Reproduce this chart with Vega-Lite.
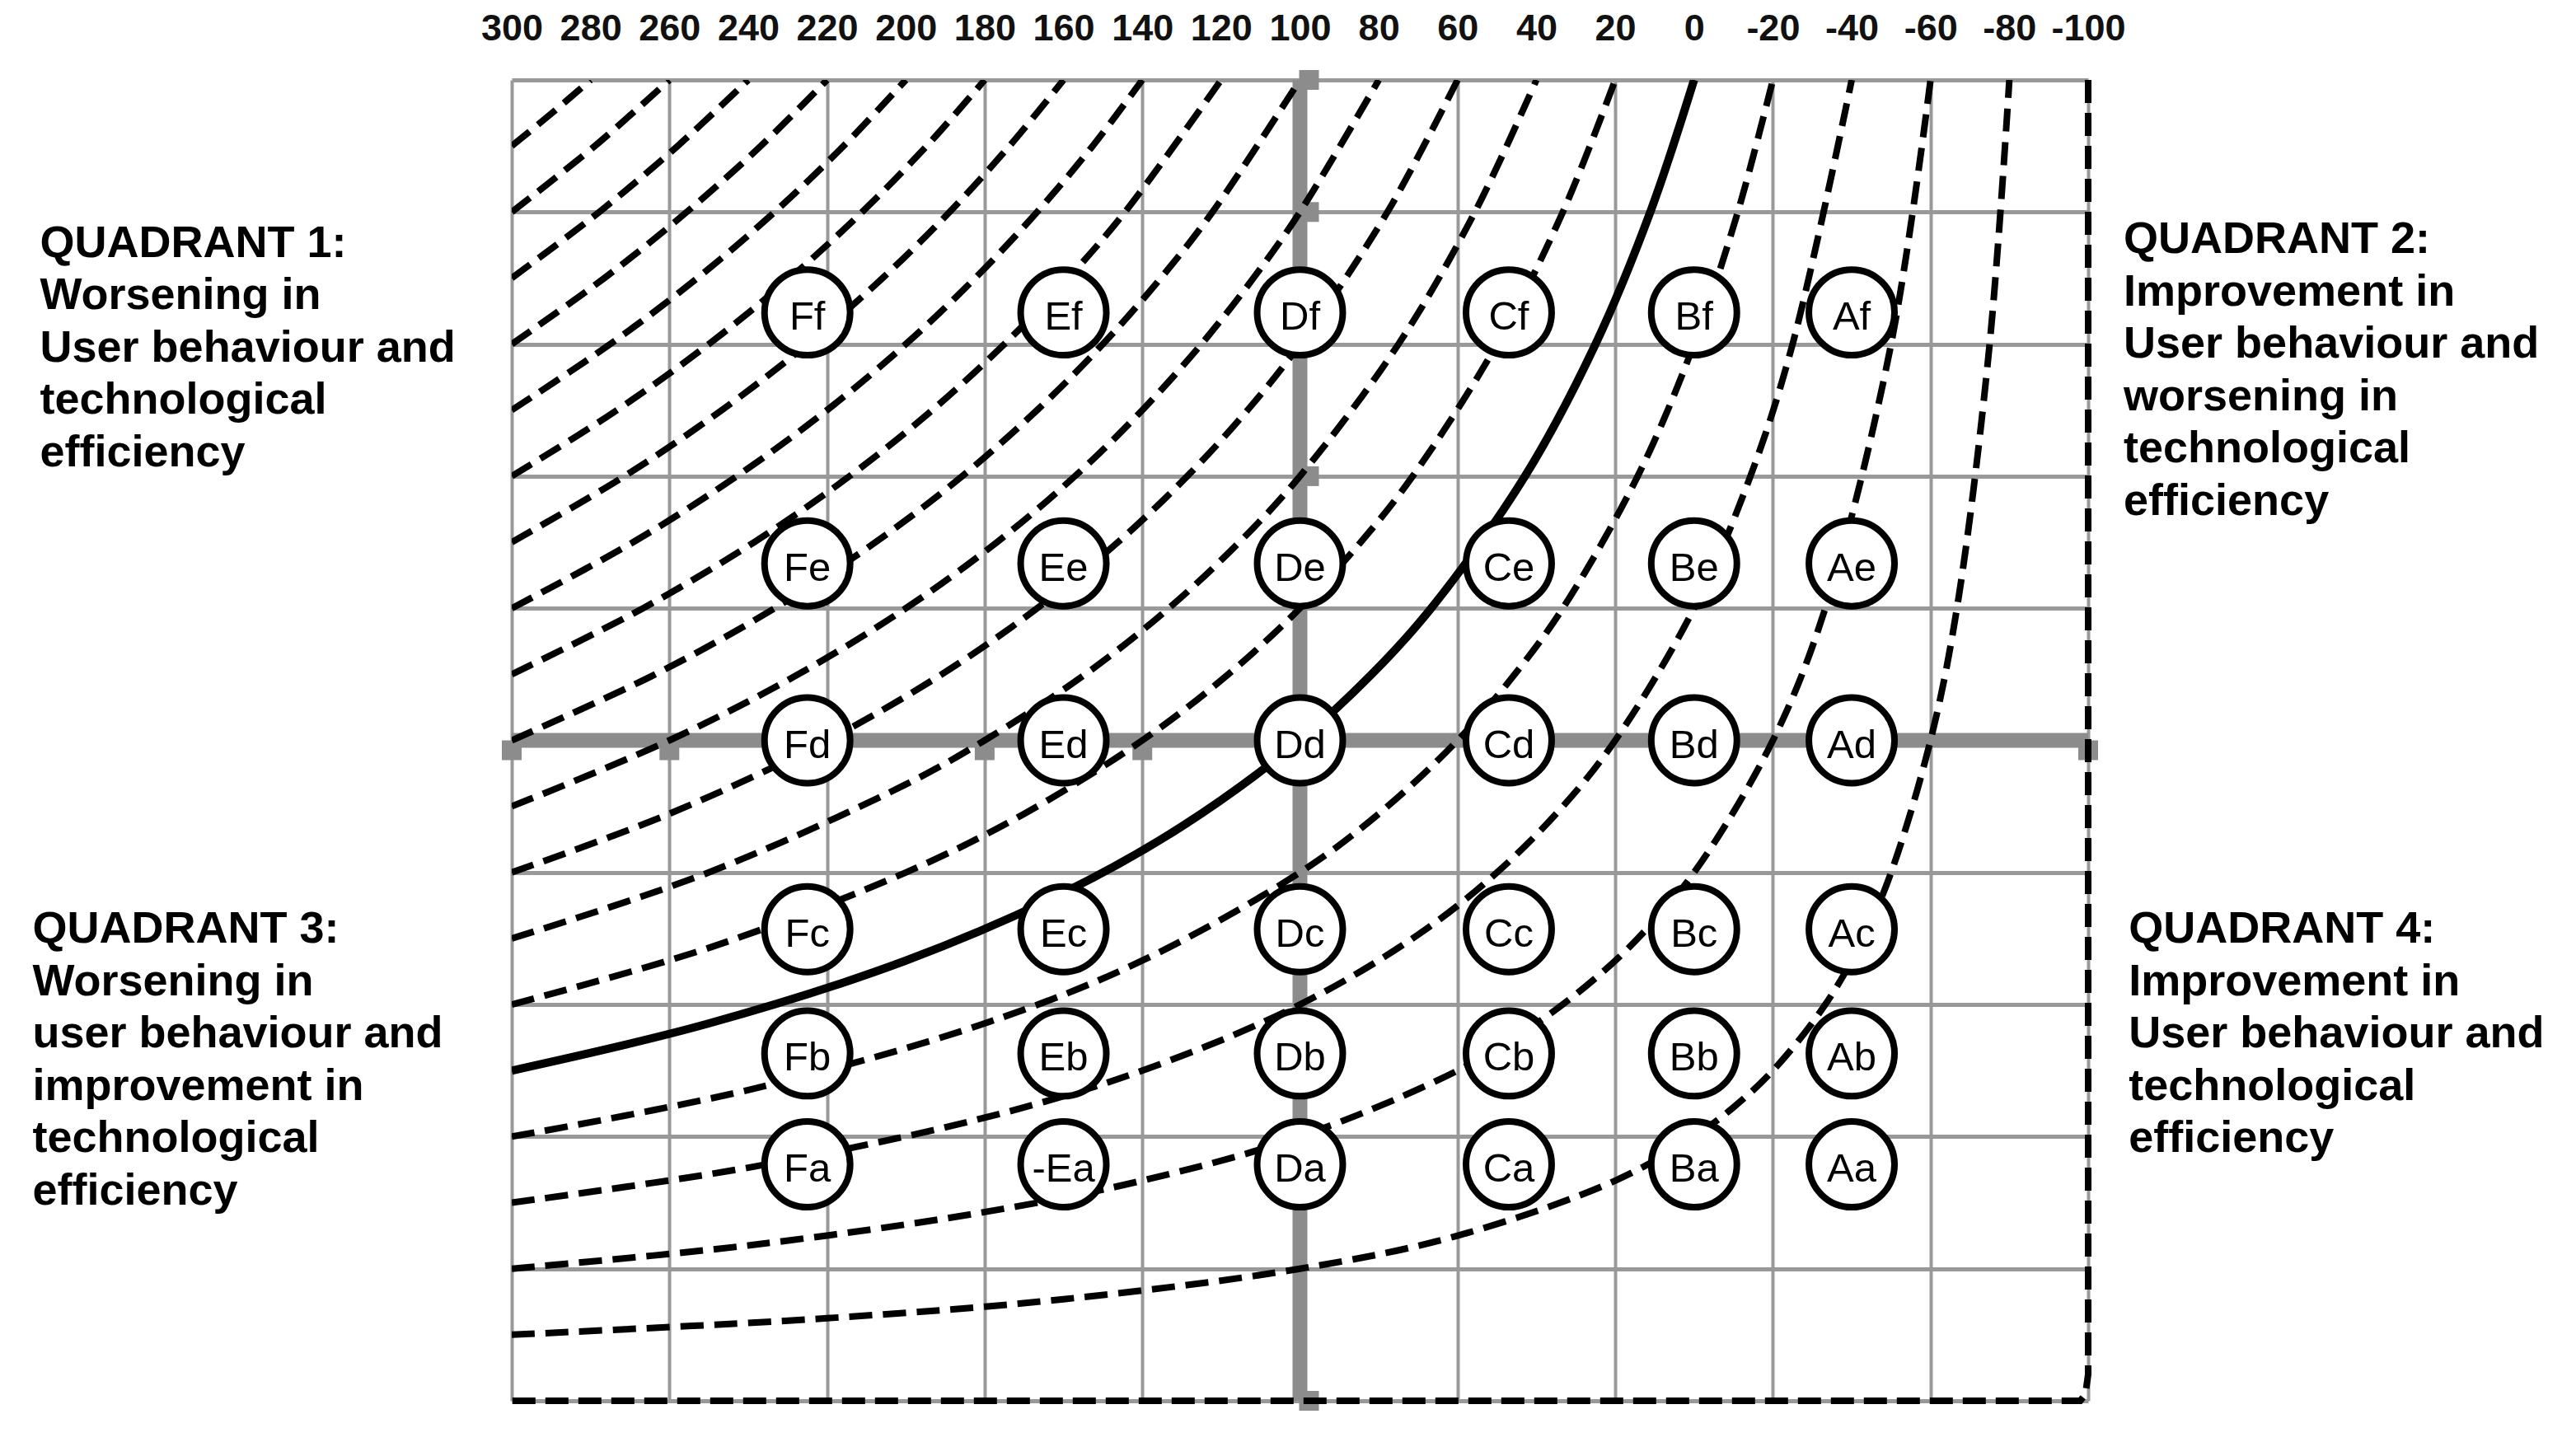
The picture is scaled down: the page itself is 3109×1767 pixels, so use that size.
{
  "$schema": "https://vega.github.io/schema/vega-lite/v6.json",
  "width": 1913,
  "height": 1603,
  "autosize": {"type": "none"},
  "padding": {"left": 621, "top": 97, "right": 575, "bottom": 67},
  "background": "white",
  "config": {"view": {"stroke": null}},
  "datasets": {
    "hline": [{"x": 300, "x2": -100, "y": 5}],
    "vline": [{"x": 100, "y": 10, "y2": 0}],
    "hnubs": [{"x": 300, "y": 5}, {"x": 260, "y": 5}, {"x": 180, "y": 5}, {"x": 140, "y": 5}, {"x": -100, "y": 5}],
    "vnubs": [{"x": 100, "y": 10}, {"x": 100, "y": 9}, {"x": 100, "y": 7}, {"x": 100, "y": 0}],
    "curves": [
      {"k": 200, "x": -80, "y": 10}, {"k": 200, "x": -75, "y": 8}, {"k": 200, "x": -66.7, "y": 6}, {"k": 200, "x": -60, "y": 5}, {"k": 200, "x": -50, "y": 4}, {"k": 200, "x": -42.9, "y": 3.5}, {"k": 200, "x": -33.3, "y": 3}, {"k": 200, "x": -20, "y": 2.5}, {"k": 200, "x": -10, "y": 2.222}, {"k": 200, "x": 0, "y": 2}, {"k": 200, "x": 20, "y": 1.667}, {"k": 200, "x": 60, "y": 1.25}, {"k": 200, "x": 100, "y": 1}, {"k": 200, "x": 160, "y": 0.769}, {"k": 200, "x": 220, "y": 0.625}, {"k": 200, "x": 300, "y": 0.5},
      {"k": 400, "x": -60, "y": 10}, {"k": 400, "x": -50, "y": 8}, {"k": 400, "x": -33.3, "y": 6}, {"k": 400, "x": -20, "y": 5}, {"k": 400, "x": 0, "y": 4}, {"k": 400, "x": 14.3, "y": 3.5}, {"k": 400, "x": 25, "y": 3.2}, {"k": 400, "x": 40, "y": 2.857}, {"k": 400, "x": 60, "y": 2.5}, {"k": 400, "x": 100, "y": 2}, {"k": 400, "x": 140, "y": 1.667}, {"k": 400, "x": 180, "y": 1.429}, {"k": 400, "x": 240, "y": 1.176}, {"k": 400, "x": 300, "y": 1},
      {"k": 600, "x": -40, "y": 10}, {"k": 600, "x": -25, "y": 8}, {"k": 600, "x": -14.3, "y": 7}, {"k": 600, "x": 0, "y": 6}, {"k": 600, "x": 20, "y": 5}, {"k": 600, "x": 33.3, "y": 4.5}, {"k": 600, "x": 50, "y": 4}, {"k": 600, "x": 70, "y": 3.529}, {"k": 600, "x": 100, "y": 3}, {"k": 600, "x": 140, "y": 2.5}, {"k": 600, "x": 180, "y": 2.143}, {"k": 600, "x": 240, "y": 1.765}, {"k": 600, "x": 300, "y": 1.5},
      {"k": 800, "x": -20, "y": 10}, {"k": 800, "x": -11.1, "y": 9}, {"k": 800, "x": 0, "y": 8}, {"k": 800, "x": 14.3, "y": 7}, {"k": 800, "x": 33.3, "y": 6}, {"k": 800, "x": 45.5, "y": 5.5}, {"k": 800, "x": 60, "y": 5}, {"k": 800, "x": 80, "y": 4.444}, {"k": 800, "x": 100, "y": 4}, {"k": 800, "x": 140, "y": 3.333}, {"k": 800, "x": 180, "y": 2.857}, {"k": 800, "x": 240, "y": 2.353}, {"k": 800, "x": 300, "y": 2},
      {"k": 1200, "x": 20, "y": 10}, {"k": 1200, "x": 33.3, "y": 9}, {"k": 1200, "x": 50, "y": 8}, {"k": 1200, "x": 71.4, "y": 7}, {"k": 1200, "x": 84.6, "y": 6.5}, {"k": 1200, "x": 100, "y": 6}, {"k": 1200, "x": 118.2, "y": 5.5}, {"k": 1200, "x": 140, "y": 5}, {"k": 1200, "x": 170, "y": 4.444}, {"k": 1200, "x": 200, "y": 4}, {"k": 1200, "x": 250, "y": 3.429}, {"k": 1200, "x": 300, "y": 3},
      {"k": 1400, "x": 40, "y": 10}, {"k": 1400, "x": 55.6, "y": 9}, {"k": 1400, "x": 75, "y": 8}, {"k": 1400, "x": 100, "y": 7}, {"k": 1400, "x": 115.4, "y": 6.5}, {"k": 1400, "x": 133.3, "y": 6}, {"k": 1400, "x": 154.5, "y": 5.5}, {"k": 1400, "x": 180, "y": 5}, {"k": 1400, "x": 200, "y": 4.667}, {"k": 1400, "x": 250, "y": 4}, {"k": 1400, "x": 300, "y": 3.5},
      {"k": 1600, "x": 60, "y": 10}, {"k": 1600, "x": 77.8, "y": 9}, {"k": 1600, "x": 100, "y": 8}, {"k": 1600, "x": 113.3, "y": 7.5}, {"k": 1600, "x": 128.6, "y": 7}, {"k": 1600, "x": 146.2, "y": 6.5}, {"k": 1600, "x": 166.7, "y": 6}, {"k": 1600, "x": 190.9, "y": 5.5}, {"k": 1600, "x": 220, "y": 5}, {"k": 1600, "x": 260, "y": 4.444}, {"k": 1600, "x": 300, "y": 4},
      {"k": 1800, "x": 80, "y": 10}, {"k": 1800, "x": 100, "y": 9}, {"k": 1800, "x": 111.8, "y": 8.5}, {"k": 1800, "x": 125, "y": 8}, {"k": 1800, "x": 140, "y": 7.5}, {"k": 1800, "x": 157.1, "y": 7}, {"k": 1800, "x": 176.9, "y": 6.5}, {"k": 1800, "x": 200, "y": 6}, {"k": 1800, "x": 227.3, "y": 5.5}, {"k": 1800, "x": 260, "y": 5}, {"k": 1800, "x": 300, "y": 4.5},
      {"k": 2000, "x": 100, "y": 10}, {"k": 2000, "x": 122.2, "y": 9}, {"k": 2000, "x": 135.3, "y": 8.5}, {"k": 2000, "x": 150, "y": 8}, {"k": 2000, "x": 166.7, "y": 7.5}, {"k": 2000, "x": 185.7, "y": 7}, {"k": 2000, "x": 207.7, "y": 6.5}, {"k": 2000, "x": 233.3, "y": 6}, {"k": 2000, "x": 263.6, "y": 5.5}, {"k": 2000, "x": 300, "y": 5},
      {"k": 2200, "x": 120, "y": 10}, {"k": 2200, "x": 144.4, "y": 9}, {"k": 2200, "x": 158.8, "y": 8.5}, {"k": 2200, "x": 175, "y": 8}, {"k": 2200, "x": 193.3, "y": 7.5}, {"k": 2200, "x": 214.3, "y": 7}, {"k": 2200, "x": 238.5, "y": 6.5}, {"k": 2200, "x": 266.7, "y": 6}, {"k": 2200, "x": 300, "y": 5.5},
      {"k": 2400, "x": 140, "y": 10}, {"k": 2400, "x": 152.6, "y": 9.5}, {"k": 2400, "x": 166.7, "y": 9}, {"k": 2400, "x": 182.4, "y": 8.5}, {"k": 2400, "x": 200, "y": 8}, {"k": 2400, "x": 220, "y": 7.5}, {"k": 2400, "x": 242.9, "y": 7}, {"k": 2400, "x": 269.2, "y": 6.5}, {"k": 2400, "x": 300, "y": 6},
      {"k": 2600, "x": 160, "y": 10}, {"k": 2600, "x": 173.7, "y": 9.5}, {"k": 2600, "x": 188.9, "y": 9}, {"k": 2600, "x": 205.9, "y": 8.5}, {"k": 2600, "x": 225, "y": 8}, {"k": 2600, "x": 246.7, "y": 7.5}, {"k": 2600, "x": 271.4, "y": 7}, {"k": 2600, "x": 300, "y": 6.5},
      {"k": 2800, "x": 180, "y": 10}, {"k": 2800, "x": 194.7, "y": 9.5}, {"k": 2800, "x": 211.1, "y": 9}, {"k": 2800, "x": 229.4, "y": 8.5}, {"k": 2800, "x": 250, "y": 8}, {"k": 2800, "x": 273.3, "y": 7.5}, {"k": 2800, "x": 300, "y": 7},
      {"k": 3000, "x": 200, "y": 10}, {"k": 3000, "x": 215.8, "y": 9.5}, {"k": 3000, "x": 233.3, "y": 9}, {"k": 3000, "x": 252.9, "y": 8.5}, {"k": 3000, "x": 275, "y": 8}, {"k": 3000, "x": 300, "y": 7.5},
      {"k": 3200, "x": 220, "y": 10}, {"k": 3200, "x": 236.8, "y": 9.5}, {"k": 3200, "x": 255.6, "y": 9}, {"k": 3200, "x": 276.5, "y": 8.5}, {"k": 3200, "x": 300, "y": 8},
      {"k": 3400, "x": 240, "y": 10}, {"k": 3400, "x": 257.9, "y": 9.5}, {"k": 3400, "x": 277.8, "y": 9}, {"k": 3400, "x": 300, "y": 8.5},
      {"k": 3600, "x": 260, "y": 10}, {"k": 3600, "x": 278.9, "y": 9.5}, {"k": 3600, "x": 300, "y": 9},
      {"k": 3800, "x": 280, "y": 10}, {"k": 3800, "x": 290, "y": 9.744}, {"k": 3800, "x": 300, "y": 9.5}
    ],
    "solid": [
      {"k": 1000, "x": 0, "y": 10}, {"k": 1000, "x": 11.1, "y": 9}, {"k": 1000, "x": 25, "y": 8}, {"k": 1000, "x": 42.9, "y": 7}, {"k": 1000, "x": 66.7, "y": 6}, {"k": 1000, "x": 81.8, "y": 5.5}, {"k": 1000, "x": 100, "y": 5}, {"k": 1000, "x": 130, "y": 4.348}, {"k": 1000, "x": 160, "y": 3.846}, {"k": 1000, "x": 200, "y": 3.333}, {"k": 1000, "x": 250, "y": 2.857}, {"k": 1000, "x": 300, "y": 2.5}
    ],
    "border": [
      {"i": 0, "x": -100, "y": 10}, {"i": 1, "x": -100, "y": 0.2}, {"i": 2, "x": -99.3, "y": 0.05}, {"i": 3, "x": -98, "y": 0}, {"i": 4, "x": 300, "y": 0}
    ],
    "circles": [
      {"x": 225, "y": 8.24, "label": "Ff"}, {"x": 160, "y": 8.24, "label": "Ef"}, {"x": 100, "y": 8.24, "label": "Df"}, {"x": 47, "y": 8.24, "label": "Cf"}, {"x": 0, "y": 8.24, "label": "Bf"}, {"x": -40, "y": 8.24, "label": "Af"},
      {"x": 225, "y": 6.34, "label": "Fe"}, {"x": 160, "y": 6.34, "label": "Ee"}, {"x": 100, "y": 6.34, "label": "De"}, {"x": 47, "y": 6.34, "label": "Ce"}, {"x": 0, "y": 6.34, "label": "Be"}, {"x": -40, "y": 6.34, "label": "Ae"},
      {"x": 225, "y": 5.0, "label": "Fd"}, {"x": 160, "y": 5.0, "label": "Ed"}, {"x": 100, "y": 5.0, "label": "Dd"}, {"x": 47, "y": 5.0, "label": "Cd"}, {"x": 0, "y": 5.0, "label": "Bd"}, {"x": -40, "y": 5.0, "label": "Ad"},
      {"x": 225, "y": 3.57, "label": "Fc"}, {"x": 160, "y": 3.57, "label": "Ec"}, {"x": 100, "y": 3.57, "label": "Dc"}, {"x": 47, "y": 3.57, "label": "Cc"}, {"x": 0, "y": 3.57, "label": "Bc"}, {"x": -40, "y": 3.57, "label": "Ac"},
      {"x": 225, "y": 2.63, "label": "Fb"}, {"x": 160, "y": 2.63, "label": "Eb"}, {"x": 100, "y": 2.63, "label": "Db"}, {"x": 47, "y": 2.63, "label": "Cb"}, {"x": 0, "y": 2.63, "label": "Bb"}, {"x": -40, "y": 2.63, "label": "Ab"},
      {"x": 225, "y": 1.79, "label": "Fa"}, {"x": 160, "y": 1.79, "label": "-Ea"}, {"x": 100, "y": 1.79, "label": "Da"}, {"x": 47, "y": 1.79, "label": "Ca"}, {"x": 0, "y": 1.79, "label": "Ba"}, {"x": -40, "y": 1.79, "label": "Aa"}
    ],
    "quads": [
      {"x": 419.7, "y": 8.661, "lines": ["QUADRANT 1:", "Worsening in", "User behaviour and", "technological", "efficiency"]},
      {"x": -109.0, "y": 8.69, "lines": ["QUADRANT 2:", "Improvement in", "User behaviour and", "worsening in", "technological", "efficiency"]},
      {"x": 421.6, "y": 3.468, "lines": ["QUADRANT 3:", "Worsening in", "user behaviour and", "improvement in", "technological", "efficiency"]},
      {"x": -110.3, "y": 3.468, "lines": ["QUADRANT 4:", "Improvement in", "User behaviour and", "technological", "efficiency"]}
    ]
  },
  "layer": [
    {
      "data": {"name": "hline"},
      "mark": {"type": "rule", "color": "#8c8c8c", "strokeWidth": 18},
      "encoding": {
        "x": {
          "field": "x", "type": "quantitative",
          "scale": {"domain": [-100, 300], "reverse": true, "nice": false, "zero": false},
          "axis": {
            "orient": "top", "title": null,
            "values": [300, 280, 260, 240, 220, 200, 180, 160, 140, 120, 100, 80, 60, 40, 20, 0, -20, -40, -60, -80, -100],
            "domain": false, "ticks": false, "tickSize": 0, "labelPadding": 40,
            "labelFont": "Liberation Sans", "labelFontSize": 45, "labelFontWeight": "bold", "labelColor": "#111111",
            "labelFlush": false, "labelOverlap": false, "labelBound": false,
            "labelExpr": "toString(datum.value)",
            "grid": true, "gridColor": "#999999", "gridWidth": 4,
            "gridOpacity": {"condition": {"test": "datum.value % 40 === 0", "value": 0}, "value": 1}
          }
        },
        "x2": {"field": "x2"},
        "y": {
          "field": "y", "type": "quantitative",
          "scale": {"domain": [0, 10], "nice": false, "zero": false},
          "axis": {
            "title": null, "values": [0, 1, 2, 3, 4, 5, 6, 7, 8, 9, 10],
            "labels": false, "ticks": false, "domain": false,
            "grid": true, "gridColor": "#999999", "gridWidth": 5
          }
        }
      }
    },
    {
      "data": {"name": "vline"},
      "mark": {"type": "rule", "color": "#8c8c8c", "strokeWidth": 18},
      "encoding": {
        "x": {"field": "x", "type": "quantitative"},
        "y": {"field": "y", "type": "quantitative"},
        "y2": {"field": "y2"}
      }
    },
    {
      "data": {"name": "hnubs"},
      "mark": {"type": "point", "shape": "square", "filled": true, "color": "#8c8c8c", "opacity": 1, "size": 576, "yOffset": 12},
      "encoding": {
        "x": {"field": "x", "type": "quantitative"},
        "y": {"field": "y", "type": "quantitative"}
      }
    },
    {
      "data": {"name": "vnubs"},
      "mark": {"type": "point", "shape": "square", "filled": true, "color": "#8c8c8c", "opacity": 1, "size": 576, "xOffset": 11},
      "encoding": {
        "x": {"field": "x", "type": "quantitative"},
        "y": {"field": "y", "type": "quantitative"}
      }
    },
    {
      "data": {"name": "curves"},
      "mark": {"type": "line", "interpolate": "catmull-rom", "color": "black", "strokeWidth": 8, "strokeDash": [28, 13], "clip": true},
      "encoding": {
        "x": {"field": "x", "type": "quantitative"},
        "y": {"field": "y", "type": "quantitative"},
        "detail": {"field": "k", "type": "nominal"}
      }
    },
    {
      "data": {"name": "solid"},
      "mark": {"type": "line", "interpolate": "catmull-rom", "color": "black", "strokeWidth": 10, "clip": true},
      "encoding": {
        "x": {"field": "x", "type": "quantitative"},
        "y": {"field": "y", "type": "quantitative"}
      }
    },
    {
      "data": {"name": "border"},
      "mark": {"type": "line", "color": "black", "strokeWidth": 8, "strokeDash": [28, 12]},
      "encoding": {
        "x": {"field": "x", "type": "quantitative"},
        "y": {"field": "y", "type": "quantitative"},
        "order": {"field": "i", "type": "quantitative"}
      }
    },
    {
      "data": {"name": "circles"},
      "mark": {"type": "point", "shape": "circle", "filled": true, "fill": "white", "stroke": "black", "strokeWidth": 8, "size": 10800, "opacity": 1},
      "encoding": {
        "x": {"field": "x", "type": "quantitative"},
        "y": {"field": "y", "type": "quantitative"}
      }
    },
    {
      "data": {"name": "circles"},
      "mark": {"type": "text", "font": "Liberation Sans", "fontSize": 49, "align": "center", "baseline": "middle", "dy": 6, "color": "black"},
      "encoding": {
        "x": {"field": "x", "type": "quantitative"},
        "y": {"field": "y", "type": "quantitative"},
        "text": {"field": "label", "type": "nominal"}
      }
    },
    {
      "data": {"name": "quads"},
      "mark": {"type": "text", "font": "Liberation Sans", "fontSize": 54, "fontWeight": "bold", "align": "left", "baseline": "alphabetic", "lineHeight": 63.6, "color": "black"},
      "encoding": {
        "x": {"field": "x", "type": "quantitative"},
        "y": {"field": "y", "type": "quantitative"},
        "text": {"field": "lines"}
      }
    }
  ]
}
